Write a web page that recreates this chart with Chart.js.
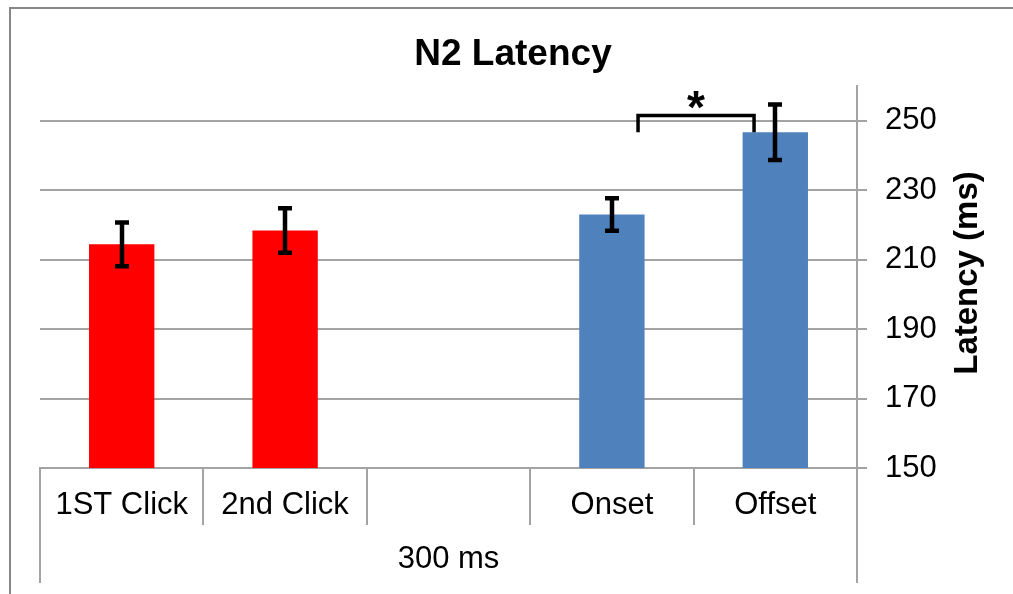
<!DOCTYPE html>
<html>
<head>
<meta charset="utf-8">
<title>N2 Latency</title>
<script src="https://cdn.jsdelivr.net/npm/chart.js@4.4.1/dist/chart.umd.min.js"></script>
<style>
  html, body { margin: 0; padding: 0; background: #ffffff; }
  #wrap { position: relative; width: 1013px; height: 594px; overflow: hidden; }
  canvas { display: block; }
</style>
</head>
<body>
<div id="wrap"><canvas id="chart" width="1013" height="594"></canvas></div>
<script>
// Conditions (one spacer slot between the click and the tone conditions)
const categories = ['1ST Click', '2nd Click', '', 'Onset', 'Offset'];
const groupLabel = '300 ms';

// Mean N2 latency (ms) and error-bar half widths
const latencyMeans = [214.4, 218.4, null, 223.0, 246.7];
const latencyErrors = [6.3, 6.4, null, 4.7, 8.0];

// Bar fill per condition
const barColors = ['#FF0000', '#FF0000', '#FF0000', '#4F81BD', '#4F81BD'];

// Value axis
const yTickValues = [150, 170, 190, 210, 230, 250];
const yMin = 150;
const yMax = 260;

// Significance bracket between Onset and Offset (category index units / ms)
const sigFrom = 3.16;
const sigTo = 3.87;
const sigLevel = 251.5;
const sigLegEnd = 246.7;
const sigMark = '*';

const FONT = "'Liberation Sans', Arial, Helvetica, sans-serif";
const GRID = '#a3a3a3';

// Outer chart frame, category separators extended for the group row,
// error bars, significance bracket and the rotated value-axis title.
const decorations = {
  id: 'decorations',
  beforeDraw(chart) {
    const ctx = chart.ctx;
    ctx.save();
    ctx.strokeStyle = '#878787';
    ctx.lineWidth = 2;
    ctx.strokeRect(10, 8, 1200, 800);
    ctx.restore();
  },
  afterDatasetsDraw(chart) {
    const ctx = chart.ctx;
    const x = chart.scales.x;
    const y = chart.scales.y;
    const meta = chart.getDatasetMeta(0);

    // error bars
    ctx.save();
    ctx.strokeStyle = '#000000';
    ctx.lineWidth = 4.5;
    ctx.lineCap = 'butt';
    latencyMeans.forEach((v, i) => {
      if (v === null || latencyErrors[i] === null) return;
      const cx = Math.round(meta.data[i].x);
      const top = y.getPixelForValue(v + latencyErrors[i]);
      const bot = y.getPixelForValue(v - latencyErrors[i]);
      const half = 7;
      ctx.beginPath();
      ctx.moveTo(cx, top);
      ctx.lineTo(cx, bot);
      ctx.moveTo(cx - half, top);
      ctx.lineTo(cx + half, top);
      ctx.moveTo(cx - half, bot);
      ctx.lineTo(cx + half, bot);
      ctx.stroke();
    });

    // significance bracket
    const x1 = x.getPixelForValue(sigFrom);
    const x2 = x.getPixelForValue(sigTo);
    const yl = y.getPixelForValue(sigLevel);
    const ye = y.getPixelForValue(sigLegEnd);
    ctx.lineWidth = 3.5;
    ctx.lineJoin = 'miter';
    ctx.beginPath();
    ctx.moveTo(x1, ye);
    ctx.lineTo(x1, yl);
    ctx.lineTo(x2, yl);
    ctx.lineTo(x2, ye);
    ctx.stroke();

    ctx.fillStyle = '#000000';
    ctx.font = 'bold 46px ' + FONT;
    ctx.textAlign = 'center';
    ctx.textBaseline = 'alphabetic';
    const m = ctx.measureText(sigMark);
    const cy = yl - 16;
    ctx.fillText(sigMark, (x1 + x2) / 2, cy + (m.actualBoundingBoxAscent - m.actualBoundingBoxDescent) / 2);
    ctx.restore();
  },
  afterDraw(chart) {
    const ctx = chart.ctx;
    const x = chart.scales.x;
    const area = chart.chartArea;
    ctx.save();
    // outer edges of the two-level category axis
    ctx.strokeStyle = GRID;
    ctx.lineWidth = 2;
    ctx.beginPath();
    ctx.moveTo(Math.round(area.left), area.bottom);
    ctx.lineTo(Math.round(area.left), x.bottom + 5);
    ctx.moveTo(Math.round(area.right), area.bottom);
    ctx.lineTo(Math.round(area.right), x.bottom + 5);
    ctx.stroke();

    // value-axis title, reading bottom to top
    ctx.fillStyle = '#000000';
    ctx.font = 'bold 33px ' + FONT;
    ctx.textAlign = 'center';
    ctx.textBaseline = 'middle';
    ctx.translate(968, (area.top + area.bottom) / 2 - 4);
    ctx.rotate(-Math.PI / 2);
    ctx.fillText('Latency (ms)', 0, 0);
    ctx.restore();
  }
};

new Chart(document.getElementById('chart'), {
  type: 'bar',
  data: {
    labels: categories,
    datasets: [{
      data: latencyMeans,
      backgroundColor: barColors,
      borderWidth: 0,
      barPercentage: 0.4,
      categoryPercentage: 1.0
    }]
  },
  options: {
    responsive: false,
    animation: false,
    devicePixelRatio: 1,
    layout: { padding: { left: 40, right: 27, top: 0, bottom: 16 } },
    plugins: {
      legend: { display: false },
      tooltip: { enabled: false },
      title: {
        display: true,
        text: 'N2 Latency',
        color: '#000000',
        font: { family: FONT, size: 37, weight: 'bold', lineHeight: 1.2 },
        padding: { top: 33, bottom: 8.6 }
      }
    },
    scales: {
      x: {
        position: 'bottom',
        offset: true,
        grid: {
          display: true,
          offset: true,
          drawOnChartArea: false,
          drawTicks: true,
          tickLength: 57,
          color: GRID,
          lineWidth: 2
        },
        border: { display: true, color: GRID, width: 2 },
        ticks: {
          color: '#000000',
          font: { family: FONT, size: 31 },
          padding: -38,
          maxRotation: 0,
          autoSkip: false
        },
        title: {
          display: true,
          text: groupLabel,
          color: '#000000',
          font: { family: FONT, size: 31 },
          padding: { top: 0, bottom: 0 }
        },
        afterFit(scale) { scale.height = 110; }
      },
      y: {
        position: 'right',
        min: yMin,
        max: yMax,
        afterBuildTicks(scale) {
          scale.ticks = yTickValues.map(v => ({ value: v }));
        },
        grid: {
          color: GRID,
          lineWidth: 2,
          drawTicks: true,
          tickLength: 10
        },
        border: { display: true, color: GRID, width: 2 },
        ticks: {
          color: '#000000',
          font: { family: FONT, size: 31 },
          padding: 18,
          crossAlign: 'near'
        },
        afterFit(scale) { scale.width = 129; }
      }
    }
  },
  plugins: [decorations]
});
</script>
</body>
</html>
